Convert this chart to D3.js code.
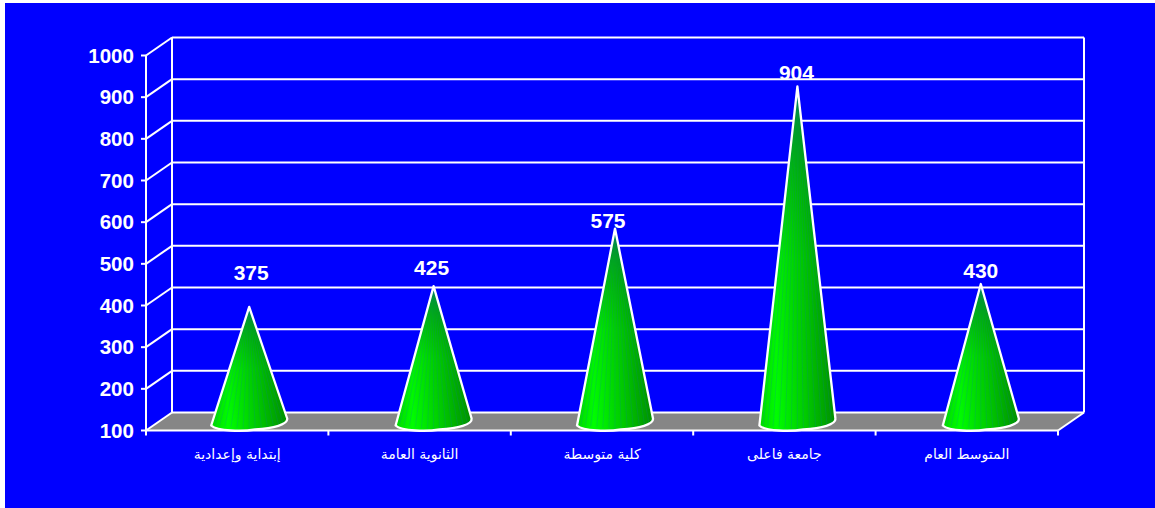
<!DOCTYPE html>
<html><head><meta charset="utf-8">
<script src="https://cdn.jsdelivr.net/npm/d3@7"></script>
<style>html,body{margin:0;padding:0;background:#fff}svg{display:block}</style>
</head><body><svg id="c" width="1155" height="508"></svg>
<script>
const categories=["إبتداية وإعدادية","الثانوية العامة","كلية متوسطة","جامعة فاعلى","المتوسط العام"];
const values=[375,425,575,904,430];
const tickValues=[100,200,300,400,500,600,700,800,900,1000];
const facets=[-0.9,-0.78,-0.64,-0.48,-0.32,-0.16,0,0.16,0.32,0.48,0.64,0.78,0.9];

const svg=d3.select("#c");
const front={l:146,r:1058,b:430.5,t:55.5}, depth={x:26,y:-18};
svg.append("rect").attr("x",5).attr("y",3).attr("width",1150).attr("height",505).attr("fill","#0000ff");
const defs=svg.append("defs");
const g=defs.append("linearGradient").attr("id","cone").attr("x1",0).attr("x2",1).attr("y1",0).attr("y2",0);
[[0,"#00d800"],[0.22,"#00ff00"],[0.6,"#00cc00"],[1,"#009000"]].forEach(s=>g.append("stop").attr("offset",s[0]).attr("stop-color",s[1]));
const gv=defs.append("linearGradient").attr("id","coneTop").attr("x1",0).attr("x2",0).attr("y1",0).attr("y2",1);
[[0,"#006a00",0.55],[0.5,"#007000",0.1],[1,"#007000",0]].forEach(s=>gv.append("stop").attr("offset",s[0]).attr("stop-color",s[1]).attr("stop-opacity",s[2]));

const y=d3.scaleLinear().domain([100,1000]).range([front.b,front.t]);
const x=d3.scaleBand().domain(categories).range([front.l,front.r]);
const W="#fff";
const line=(a,b,c,d,w=2)=>svg.append("line").attr("x1",a).attr("y1",b).attr("x2",c).attr("y2",d).attr("stroke",W).attr("stroke-width",w);

svg.append("path").attr("d",`M${front.l},${front.b}L${front.l+depth.x},${front.b+depth.y}H${front.r+depth.x}L${front.r},${front.b}Z`).attr("fill","#868686");
tickValues.forEach(v=>{
  line(front.l+depth.x,y(v)+depth.y,front.r+depth.x,y(v)+depth.y);
  line(front.l,y(v),front.l+depth.x,y(v)+depth.y);
  line(front.l-5,y(v),front.l,y(v));
});
line(front.l,front.t,front.l,front.b);
line(front.l+depth.x,front.t+depth.y,front.l+depth.x,front.b+depth.y);
line(front.r+depth.x,front.t+depth.y,front.r+depth.x,front.b+depth.y);
line(front.l,front.b,front.r,front.b);
line(front.r,front.b,front.r+depth.x,front.b+depth.y);
x.domain().forEach(c=>line(x(c),front.b,x(c),front.b+5));
line(front.r,front.b,front.r,front.b+5);

svg.append("g").selectAll("text").data(tickValues).join("text")
 .attr("x",front.l-12).attr("y",v=>y(v)+7).attr("text-anchor","end")
 .attr("font-family","Liberation Sans").attr("font-weight","bold").attr("font-size",20.6).attr("fill",W).text(d=>d);

const cone=svg.append("g");
const rx=38;
const labelGap=v=>({375:34,425:18,575:8,904:14,430:13})[v];
const labelShift=v=>({375:2,425:-2,575:-7,904:-1,430:0})[v];
const tipNudge=v=>v===575?5:0;
categories.forEach((c,i)=>{
  const cx=x(c)+x.bandwidth()/2+depth.x/2+[-1,1,0,0,1][i];
  const base=front.b+depth.y/2;
  const top=y(values[i])+depth.y/2+tipNudge(values[i]);
  const lx=cx-rx, rxp=cx+rx, ly=base+4, ry=base-3;
  const d=`M${cx},${top}L${rxp},${ry}C${rxp+1},${ry+6} ${cx+24},${base+7} ${cx+6},${base+8}C${cx-6},${base+10} ${cx-32},${base+10} ${lx},${ly}Z`;
  cone.append("path").attr("d",d).attr("fill","url(#cone)");
  cone.append("path").attr("d",d).attr("fill","url(#coneTop)");
  facets.forEach(f=>cone.append("line").attr("x1",cx).attr("y1",top).attr("x2",cx+f*rx).attr("y2",base+8-Math.abs(f)*5)
    .attr("stroke","#0a70c0").attr("stroke-opacity",0.28).attr("stroke-width",0.7));
  cone.append("path").attr("d",d).attr("fill","none").attr("stroke",W).attr("stroke-width",2.3).attr("stroke-linejoin","round");
  svg.append("text").attr("x",cx+labelShift(values[i])).attr("y",top-labelGap(values[i])+7).attr("text-anchor","middle")
    .attr("font-family","Liberation Sans").attr("font-weight","bold").attr("font-size",21).attr("fill",W).text(values[i]);
  svg.append("text").attr("x",x(c)+x.bandwidth()/2).attr("y",459).attr("text-anchor","middle").attr("direction","rtl")
    .attr("font-family","DejaVu Sans").attr("font-size",14).attr("fill",W).text(c);
});
</script></body></html>
